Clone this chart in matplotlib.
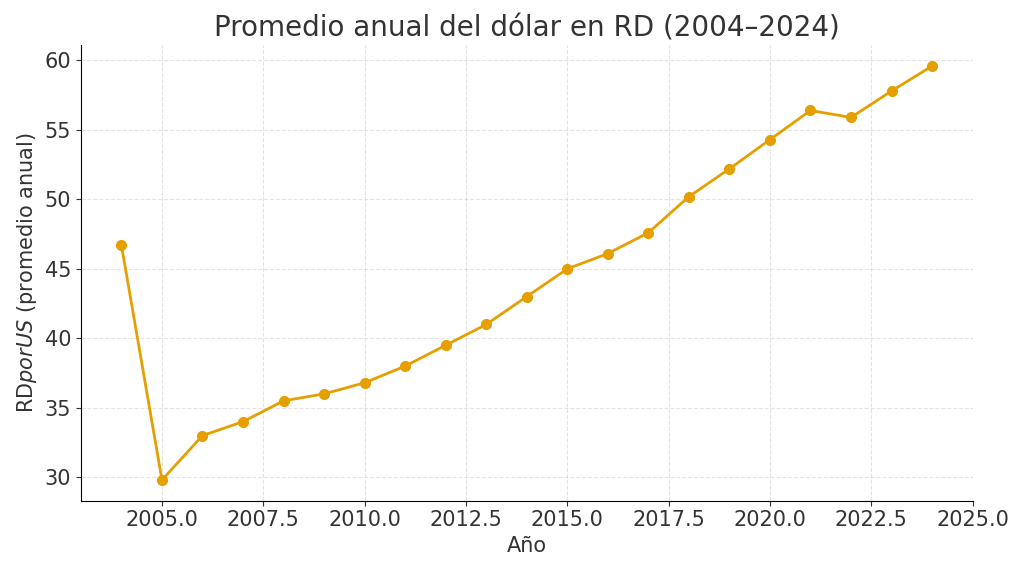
import matplotlib
matplotlib.use("Agg")
import matplotlib.pyplot as plt

# Annual average exchange rate (RD$ per US$)
years = [2004, 2005, 2006, 2007, 2008, 2009, 2010, 2011, 2012, 2013, 2014,
         2015, 2016, 2017, 2018, 2019, 2020, 2021, 2022, 2023, 2024]
rates = [46.7, 29.8, 33.0, 34.0, 35.5, 36.0, 36.8, 38.0, 39.5, 41.0, 43.0,
         45.0, 46.1, 47.6, 50.2, 52.2, 54.3, 56.4, 55.9, 57.8, 59.6]

fig, ax = plt.subplots(figsize=(10.24, 5.71), dpi=100)
ax.plot(years, rates, marker='o', color='#E69F00', linewidth=2, markersize=7)

ax.set_title('Promedio anual del dólar en RD (2004–2024)', fontsize=20, color='#333333')
ax.set_xlabel('Año', fontsize=15, color='#333333')
ax.set_ylabel('RD$ por US$ (promedio anual)', fontsize=15, color='#333333')
ax.tick_params(labelsize=15, colors='#333333')
ax.set_xlim(2003, 2025)
ax.set_yticks([30, 35, 40, 45, 50, 55, 60])
ax.grid(True, linestyle='--', alpha=0.35)
ax.spines['top'].set_visible(False)
ax.spines['right'].set_visible(False)

plt.tight_layout()
fig.savefig('out.png', dpi=100)
